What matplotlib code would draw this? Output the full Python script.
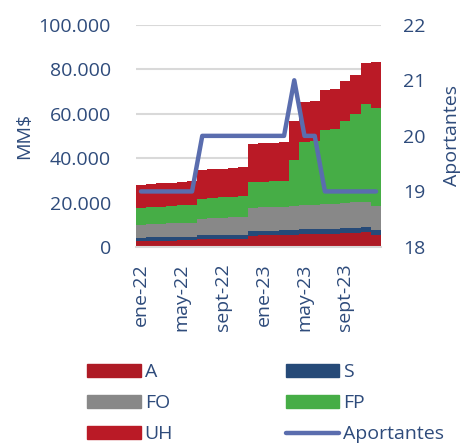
import matplotlib
matplotlib.use('Agg')
import matplotlib.pyplot as plt
import numpy as np
from matplotlib.ticker import FuncFormatter
from matplotlib.patches import Patch
from matplotlib.lines import Line2D

plt.rcParams['font.family'] = ['Open Sans', 'DejaVu Sans']

meses = ['ene-22', 'feb-22', 'mar-22', 'abr-22', 'may-22', 'jun-22', 'jul-22', 'ago-22',
         'sept-22', 'oct-22', 'nov-22', 'dic-22', 'ene-23', 'feb-23', 'mar-23', 'abr-23',
         'may-23', 'jun-23', 'jul-23', 'ago-23', 'sept-23', 'oct-23', 'nov-23', 'dic-23']

# MM$ por tipo
A = [2600, 2700, 2800, 2900, 3000, 3100, 3400, 3500, 3600, 3700, 3800, 5100,
     5200, 5300, 5400, 5600, 5700, 5800, 5900, 6000, 6200, 6400, 6600, 5500]
S = [1600, 1600, 1600, 1600, 1600, 1600, 1800, 1800, 1800, 1800, 1800, 2100,
     2100, 2100, 2100, 2200, 2200, 2200, 2200, 2300, 2300, 2200, 2200, 2300]
FO = [5800, 5900, 6000, 6100, 6200, 6300, 7500, 7600, 7700, 7800, 7900, 10300,
      10500, 10600, 10700, 10700, 10800, 10900, 11100, 11200, 11300, 11500, 11600, 10600]
FP = [7500, 7600, 7700, 7800, 7900, 8000, 9000, 9100, 9200, 9200, 9300, 11700,
      11600, 11700, 11700, 20700, 28500, 28700, 33500, 33800, 36900, 39600, 43800, 44300]
UH = [10500, 10500, 10600, 10600, 10700, 10800, 12800, 13000, 13000, 13200, 13200, 17200,
      17300, 17300, 17400, 17700, 17900, 18100, 18000, 17800, 18200, 17800, 18700, 20500]
aportantes = [19, 19, 19, 19, 19, 19, 20, 20, 20, 20, 20, 20,
              20, 20, 20, 21, 20, 20, 19, 19, 19, 19, 19, 19]

c_A = '#AE1A25'
c_S = '#264A78'
c_FO = '#888888'
c_FP = '#46AD46'
c_UH = '#BA1A26'
c_line = '#5A6DAE'
c_txt = '#2E4B7B'
fs = 14

fig = plt.figure(figsize=(4.62, 4.47), dpi=100)
ax = fig.add_axes([0.294, 0.4474, 0.531, 0.4973])
x = np.arange(len(meses))
edges = np.arange(len(meses) + 1) - 0.5

# stacked columns with no gap, drawn as filled stairs (no seams)
bottom = np.zeros(len(meses))
for vals, col in [(A, c_A), (S, c_S), (FO, c_FO), (FP, c_FP), (UH, c_UH)]:
    top = bottom + np.array(vals)
    ax.stairs(top, edges, baseline=bottom.copy(), fill=True, color=col,
              linewidth=0, zorder=2)
    bottom = top

ax.set_xlim(-0.5, len(meses) - 0.5)
ax.set_ylim(0, 100000)
ax.set_yticks(range(0, 100001, 20000))
ax.yaxis.set_major_formatter(FuncFormatter(lambda v, p: f'{v:,.0f}'.replace(',', '.')))
ax.grid(axis='y', color='#D9D9D9', linewidth=1.5, zorder=0)
ax.set_axisbelow(True)
for s in ['top', 'right', 'left']:
    ax.spines[s].set_visible(False)
ax.spines['bottom'].set_color('#D9D9D9')
ax.spines['bottom'].set_linewidth(1.5)
ax.set_xticks(x[::4])
ax.set_xticklabels(meses[::4], rotation=90)
ax.tick_params(axis='x', length=0, labelsize=fs, labelcolor=c_txt, pad=12)
ax.tick_params(axis='y', length=0, labelsize=fs, labelcolor=c_txt, pad=18)
ax.set_ylabel('MM$', fontsize=fs, color=c_txt, labelpad=4)

ax2 = ax.twinx()
ax2.plot(x, aportantes, color=c_line, linewidth=3.2, solid_capstyle='round',
         solid_joinstyle='round')
ax2.set_ylim(18, 22)
ax2.set_yticks([18, 19, 20, 21, 22])
for s in ax2.spines.values():
    s.set_visible(False)
ax2.tick_params(length=0, labelsize=fs, labelcolor=c_txt, pad=16)
ax2.set_ylabel('Aportantes', fontsize=fs, color=c_txt, labelpad=12)

handles = [Patch(color=c_A, label='A'), Patch(color=c_FO, label='FO'),
           Patch(color=c_UH, label='UH'), Patch(color=c_S, label='S'),
           Patch(color=c_FP, label='FP'),
           Line2D([], [], color=c_line, linewidth=3.2, solid_capstyle='round', label='Aportantes')]
leg = fig.legend(handles=handles, ncol=2, loc='upper left', bbox_to_anchor=(0.168, 0.21),
                 frameon=False, fontsize=fs, handlelength=2.75, handleheight=0.65,
                 handletextpad=0.2, columnspacing=5.8, labelspacing=0.68, borderpad=0)
for t in leg.get_texts():
    t.set_color(c_txt)

fig.savefig('out.png', dpi=100)
